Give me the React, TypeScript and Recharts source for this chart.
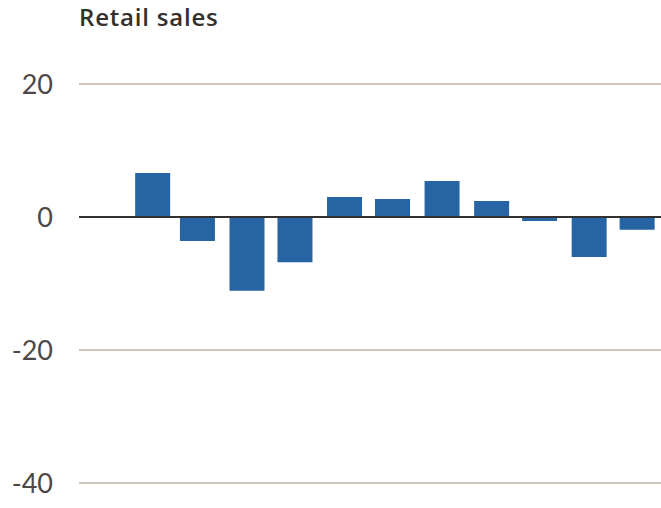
import React from 'react';
import { BarChart, Bar, XAxis, YAxis, ReferenceLine } from 'recharts';

// monthly figures, Feb to Dec (January has no bar)
const months = [
  '2023-02-01', '2023-03-01', '2023-04-01', '2023-05-01', '2023-06-01', '2023-07-01',
  '2023-08-01', '2023-09-01', '2023-10-01', '2023-11-01', '2023-12-01',
];
const salesChange = [6.6, -3.6, -11.1, -6.8, 3.0, 2.7, 5.4, 2.4, -0.6, -6.0, -1.9];
const yTicks = [20, 0, -20, -40];
const xDomain = ['2022-12-17', '2023-12-16'];

const data = months.map((m, i) => ({ date: Date.parse(m), value: salesChange[i] }));

const W = 661;
const H = 508;
const LEFT = 79;

const Tick = (props: any) => {
  const { y, payload } = props;
  const v = payload.value as number;
  return (
    <g>
      {v !== 0 && (
        <line x1={LEFT} x2={W} y1={y} y2={y} stroke="#cec5bc" strokeWidth={2} />
      )}
      <text
        x={53}
        y={y}
        dy={10}
        textAnchor="end"
        fill="#4d4845"
        fontSize={27}
        fontFamily="Lato, sans-serif"
      >
        {v}
      </text>
    </g>
  );
};

export default function App() {
  return (
    <div style={{ position: 'absolute', left: 0, top: 0, width: W, height: H, background: '#fff' }}>
      <div
        style={{
          position: 'absolute',
          left: 79,
          top: 5,
          fontFamily: '"Open Sans", sans-serif',
          fontWeight: 600,
          fontSize: 24,
          lineHeight: '24px',
          letterSpacing: '0.8px',
          color: '#33302e',
          whiteSpace: 'nowrap',
        }}
      >
        Retail sales
      </div>
      <BarChart
        width={W}
        height={H}
        data={data}
        margin={{ top: 84, right: 0, left: 0, bottom: 25 }}
      >
        <XAxis
          dataKey="date"
          type="number"
          scale="time"
          domain={xDomain.map((d) => Date.parse(d))}
          allowDataOverflow
          hide
        />
        <YAxis
          width={LEFT}
          domain={[-40, 20]}
          ticks={yTicks}
          axisLine={false}
          tickLine={false}
          tick={<Tick />}
          interval={0}
        />
        <Bar dataKey="value" fill="#2764a3" barSize={35} isAnimationActive={false} />
        <ReferenceLine y={0} stroke="#33302e" strokeWidth={2} />
      </BarChart>
    </div>
  );
}
